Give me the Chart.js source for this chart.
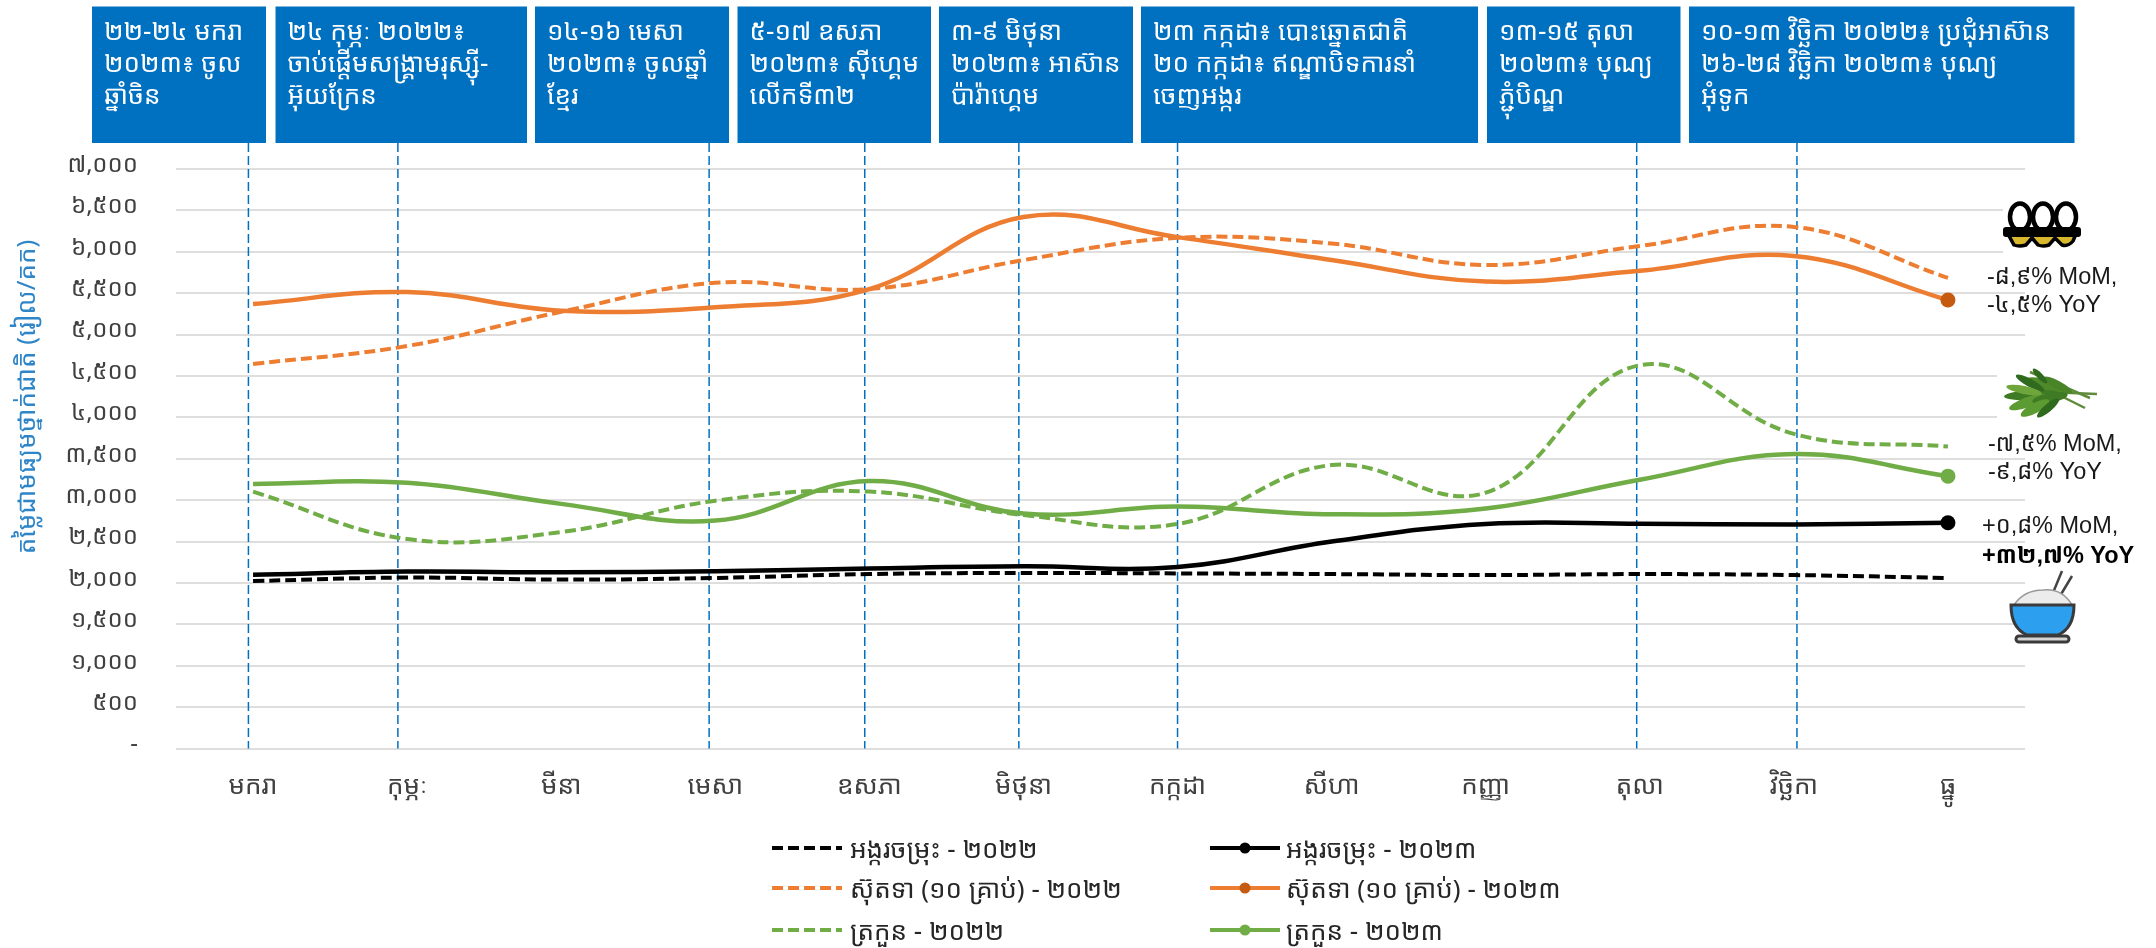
<!DOCTYPE html>
<html><head><meta charset="utf-8">
<style>html,body{margin:0;padding:0;background:#fff}canvas{display:block}</style>
<script src="https://cdn.jsdelivr.net/npm/chart.js@4/dist/chart.umd.min.js"></script>
</head><body><canvas id="c" width="2156" height="948"></canvas>
<script>
const months=['មករា','កុម្ភៈ','មីនា','មេសា','ឧសភា','មិថុនា','កក្កដា','សីហា','កញ្ញា','តុលា','វិច្ឆិកា','ធ្នូ'];
const rice2022=[2023,2065,2040,2060,2107,2120,2115,2107,2095,2107,2095,2060];
const rice2023=[2098,2137,2128,2142,2175,2200,2192,2500,2712,2715,2707,2727];
const egg2022=[4645,4862,5275,5625,5550,5900,6168,6100,5840,6070,6300,5685];
const egg2023=[5369,5514,5288,5330,5550,6420,6177,5900,5640,5770,5950,5417];
const veg2022=[3103,2530,2615,2993,3103,2820,2712,3424,3090,4630,3800,3648];
const veg2023=[3196,3210,2955,2753,3230,2838,2922,2830,2900,3247,3556,3290];
const seriesNames=['អង្ករចម្រុះ - ២០២២','ស៊ុតទា (១០ គ្រាប់) - ២០២២','ត្រកួន - ២០២២','អង្ករចម្រុះ - ២០២៣','ស៊ុតទា (១០ គ្រាប់) - ២០២៣','ត្រកួន - ២០២៣'];
const yTitle='តម្លៃជាមធ្យមថ្នាក់ជាតិ (រៀល/គក)';
const eventIndex=[-0.03,0.94,2.96,3.97,4.97,6,8.98,10.02];
const eventText=[
['២២-២៤ មករា','២០២៣៖ ចូល','ឆ្នាំចិន'],
['២៤ កុម្ភៈ ២០២២៖','ចាប់ផ្តើមសង្គ្រាមរុស្ស៊ី-','អ៊ុយក្រែន'],
['១៤-១៦ មេសា','២០២៣៖ ចូលឆ្នាំ','ខ្មែរ'],
['៥-១៧ ឧសភា','២០២៣៖ ស៊ីហ្គេម','លើកទី៣២'],
['៣-៩ មិថុនា','២០២៣៖ អាស៊ាន','ប៉ារ៉ាហ្គេម'],
['២៣ កក្កដា៖ បោះឆ្នោតជាតិ','២០ កក្កដា៖ ឥណ្ឌាបិទការនាំ','ចេញអង្ករ'],
['១៣-១៥ តុលា','២០២៣៖ បុណ្យ','ភ្ជុំបិណ្ឌ'],
['១០-១៣ វិច្ឆិកា ២០២២៖ ប្រជុំអាស៊ាន','២៦-២៨ វិច្ឆិកា ២០២៣៖ បុណ្យ','អុំទូក']];
const changeText=[['-៨,៩% MoM,','-៤,៥% YoY'],['-៧,៥% MoM,','-៩,៨% YoY'],['+០,៨% MoM,','+៣២,៧% YoY']];
const khmerDigits='០១២៣៤៥៦៧៨៩';
const toKhmer=n=>n===0?'-':n.toLocaleString('en-US').replace(/\d/g,d=>khmerDigits[d]);

const FONT='"Noto Sans Khmer","Khmer OS","Noto Sans","DejaVu Sans",sans-serif';
const BLACK='#000000',ORANGE='#ED7D31',GREEN='#70AD47',BLUE='#0070C0';
const endMarker=c=>({pointRadius:x=>x.dataIndex===11?7.5:0,pointBackgroundColor:c,pointBorderColor:c,pointBorderWidth:0});
const dash=(label,data,color)=>({label,data,borderColor:color,backgroundColor:color,borderWidth:4,borderDash:[11,5],pointRadius:0,tension:.4,clip:false});
const solid=(label,data,color,marker)=>({label,data,borderColor:color,backgroundColor:color,borderWidth:4.5,tension:.4,clip:false,...endMarker(marker)});

const boxes=[[92,266],[275.5,527],[535,729],[737.5,931],[939,1133],[1141,1478],[1487,1680.5],[1689,2074.5]];

const deco={id:'deco',
beforeDatasetsDraw(ch){
  const c=ch.ctx,x=ch.scales.x,a=ch.chartArea;
  c.save();c.strokeStyle=BLUE;c.lineWidth=1.5;c.setLineDash([9,4]);
  eventIndex.forEach(i=>{const p=x.getPixelForValue(i);c.beginPath();c.moveTo(p,143);c.lineTo(p,a.bottom);c.stroke();});
  c.restore();
},
afterDraw(ch){
  const c=ch.ctx;c.save();
  boxes.forEach((b,i)=>{
    c.fillStyle=BLUE;c.fillRect(b[0],6.5,b[1]-b[0],136.5);
    c.fillStyle='#fff';c.font='26px '+FONT;c.textBaseline='middle';c.textAlign='left';
    eventText[i].forEach((t,j)=>c.fillText(t,b[0]+12,33+j*32));
  });
  c.save();c.translate(28,397);c.rotate(-Math.PI/2);c.fillStyle='#2E86C9';c.font='26px '+FONT;c.textAlign='center';c.textBaseline='middle';c.fillText(yTitle,0,0);c.restore();
  const rows=[848,888,930],cols=[772,1210];
  ch.data.datasets.forEach((d,i)=>{
    const col=i<3?0:1,y=rows[i%3],x0=cols[col];
    c.strokeStyle=d.borderColor;c.lineWidth=4;c.setLineDash(col?[]:[11,5]);c.beginPath();c.moveTo(x0,y);c.lineTo(x0+70,y);c.stroke();c.setLineDash([]);
    if(col){c.fillStyle=i===4?'#C55A11':d.borderColor;c.beginPath();c.arc(x0+35,y,5.5,0,7);c.fill();}
    c.fillStyle='#262626';c.font='26px '+FONT;c.textAlign='left';c.textBaseline='middle';c.fillText(d.label,x0+(col?76:78),y+3);
  });
  const notes=[[1987,278,306],[1988,445,473],[1982,527,557]];
  notes.forEach((n,i)=>{
    c.fillStyle='#1a1a1a';c.textAlign='left';c.textBaseline='middle';
    c.font='23.5px "Liberation Sans",'+FONT;c.fillText(changeText[i][0],n[0],n[1]);
    if(i===2){c.font='bold 23.5px "Liberation Sans",'+FONT;c.fillStyle='#000';}
    c.fillText(changeText[i][1],n[0],n[2]);
  });
  drawEggs(c);drawVeg(c);drawRice(c);
  c.restore();
}};
function drawEggs(c){
  c.fillStyle='#fff';c.fillRect(2003,203,78,50);
  [2020,2043,2066].forEach(x=>{c.beginPath();c.ellipse(x,217,10,13.5,0,0,7);c.fillStyle='#fff';c.fill();c.lineWidth=4.5;c.strokeStyle='#000';c.stroke();});
  c.fillStyle='#D8B92E';c.strokeStyle='#000';c.lineWidth=3.5;
  c.beginPath();c.moveTo(2008,234);c.lineTo(2076,234);c.lineTo(2073,241);c.quadraticCurveTo(2068,247,2062,245);c.lineTo(2055,238);c.lineTo(2049,245);c.quadraticCurveTo(2043,247,2038,245);c.lineTo(2032,238);c.lineTo(2026,245);c.quadraticCurveTo(2019,247,2014,245);c.closePath();c.fill();c.stroke();
  c.fillStyle='#000';c.beginPath();c.roundRect(2003,227,78,10,3);c.fill();
}
function drawVeg(c){
  c.fillStyle='#fff';c.fillRect(1997,368,106,55);
  c.strokeStyle='#5F8A3A';c.lineWidth=2.5;
  [[2045,392,2097,394],[2045,388,2085,408],[2030,372,2090,398]].forEach(s=>{c.beginPath();c.moveTo(s[0],s[1]);c.lineTo(s[2],s[3]);c.stroke();});
  const leaves=[[2045,385,21,6,.25,'#4E8A2A'],[2032,395,28,5,-.05,'#3F7A24'],[2028,402,20,5,-.35,'#5C9A32'],[2030,383,16,4,.5,'#2F6A1E'],[2058,385,16,4,.5,'#4A8428'],[2050,398,18,5,-.2,'#3F7A24'],[2035,408,16,5,-.5,'#5C9A32'],[2048,408,14,4,-.7,'#2F6A1E'],[2024,390,18,4,.2,'#6FA63C'],[2040,376,10,3,.8,'#2F6A1E']];
  leaves.forEach(l=>{c.fillStyle=l[5];c.beginPath();c.ellipse(l[0],l[1],l[2],l[3],l[4],0,7);c.fill();});
}
function drawRice(c){
  c.strokeStyle='#444';c.lineWidth=2.5;
  c.beginPath();c.moveTo(2050,600);c.lineTo(2062,571);c.moveTo(2057,601);c.lineTo(2072,576);c.stroke();
  c.fillStyle='#ECECEC';c.strokeStyle='#999';c.lineWidth=1.5;c.beginPath();c.moveTo(2014,605);c.quadraticCurveTo(2024,590,2043,590);c.quadraticCurveTo(2062,588,2072,605);c.closePath();c.fill();c.stroke();
  c.fillStyle='#2C9FEF';c.strokeStyle='#3A3A3A';c.lineWidth=3;c.beginPath();c.moveTo(2011,605);c.lineTo(2074,605);c.quadraticCurveTo(2074,628,2058,635);c.lineTo(2027,635);c.quadraticCurveTo(2011,628,2011,605);c.closePath();c.fill();c.stroke();
  c.fillStyle='#D5D5D5';c.beginPath();c.roundRect(2016,636,53,6,3);c.fill();c.stroke();
}

new Chart(document.getElementById('c'),{
 type:'line',
 data:{labels:months,datasets:[
  dash(seriesNames[0],rice2022,BLACK),
  dash(seriesNames[1],egg2022,ORANGE),
  dash(seriesNames[2],veg2022,GREEN),
  solid(seriesNames[3],rice2023,BLACK,BLACK),
  solid(seriesNames[4],egg2023,ORANGE,'#C55A11'),
  solid(seriesNames[5],veg2023,GREEN,GREEN)]},
 options:{responsive:false,animation:false,
  layout:{padding:{left:0,right:131,top:169,bottom:0}},
  plugins:{legend:{display:false},tooltip:{enabled:false},title:{display:false}},
  scales:{
   x:{offset:true,grid:{display:false},border:{display:false},
      ticks:{color:'#404040',font:{family:FONT,size:26},padding:14,maxRotation:0,autoSkip:false},
      afterFit(s){s.height=199.5;}},
   y:{min:0,max:7000,grid:{color:'#DEDEDE',lineWidth:2,drawTicks:false},border:{display:false},
      ticks:{stepSize:500,color:'#404040',font:{family:FONT,size:24},padding:38,labelOffset:-4,callback:v=>toKhmer(v)},
      afterFit(s){s.width=176;}}
  }},
 plugins:[deco]
});
</script></body></html>
